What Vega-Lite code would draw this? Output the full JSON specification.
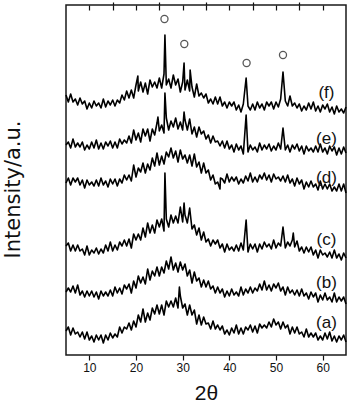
{
"$schema":"https://vega.github.io/schema/vega-lite/v6.json",
"width":280,"height":350,
"autosize":{"type":"none"},
"padding":{"left":66,"top":5,"right":4,"bottom":49},
"background":"white",
"config":{"view":{"stroke":"#1a1a1a","strokeWidth":1.5},"axis":{"grid":false}},
"datasets":{
"labels":[{"t":"(f)","x":60.8,"y":262},{"t":"(e)","x":60.8,"y":216.5},{"t":"(d)","x":60.8,"y":177.5},{"t":"(c)","x":60.8,"y":115.5},{"t":"(b)","x":60.8,"y":72.5},{"t":"(a)","x":60.8,"y":32.5}],
"marks":[{"x":26.1,"y":336},{"x":30.35,"y":311},{"x":43.7,"y":292},{"x":51.5,"y":300}],
"xrd":[
{"s":"f","x":5,"y":260},{"s":"f","x":5.5,"y":253},{"s":"f","x":6,"y":261},{"s":"f","x":6.5,"y":253},{"s":"f","x":7,"y":256},{"s":"f","x":7.5,"y":250},{"s":"f","x":8,"y":257},{"s":"f","x":8.5,"y":251},{"s":"f","x":9,"y":254},{"s":"f","x":9.5,"y":246},{"s":"f","x":10,"y":252},{"s":"f","x":10.5,"y":247},{"s":"f","x":11,"y":254},{"s":"f","x":11.5,"y":249},{"s":"f","x":12,"y":252},{"s":"f","x":12.5,"y":247},{"s":"f","x":13,"y":256},{"s":"f","x":13.5,"y":248},{"s":"f","x":14,"y":254},{"s":"f","x":14.5,"y":250},{"s":"f","x":15,"y":255},{"s":"f","x":15.5,"y":249},{"s":"f","x":16,"y":255},{"s":"f","x":16.5,"y":252},{"s":"f","x":17,"y":260},{"s":"f","x":17.5,"y":255},{"s":"f","x":18,"y":264},{"s":"f","x":18.5,"y":257},{"s":"f","x":19,"y":265},{"s":"f","x":19.5,"y":257},{"s":"f","x":20,"y":270},{"s":"f","x":20.4,"y":279},{"s":"f","x":20.5,"y":264},{"s":"f","x":21,"y":273},{"s":"f","x":21.5,"y":263},{"s":"f","x":22,"y":272},{"s":"f","x":22.5,"y":261},{"s":"f","x":23,"y":275},{"s":"f","x":23.5,"y":268},{"s":"f","x":24,"y":273},{"s":"f","x":24.5,"y":267},{"s":"f","x":25,"y":277},{"s":"f","x":25.5,"y":267},{"s":"f","x":26,"y":281},{"s":"f","x":26.2,"y":320},{"s":"f","x":26.5,"y":270},{"s":"f","x":27,"y":276},{"s":"f","x":27.5,"y":267},{"s":"f","x":28,"y":280},{"s":"f","x":28.5,"y":270},{"s":"f","x":29,"y":276},{"s":"f","x":29.5,"y":263},{"s":"f","x":30,"y":273},{"s":"f","x":30.3,"y":292},{"s":"f","x":30.5,"y":265},{"s":"f","x":31,"y":275},{"s":"f","x":31.5,"y":264},{"s":"f","x":31.6,"y":285},{"s":"f","x":32,"y":268},{"s":"f","x":32.5,"y":258},{"s":"f","x":33,"y":271},{"s":"f","x":33.5,"y":259},{"s":"f","x":34,"y":262},{"s":"f","x":34.5,"y":257},{"s":"f","x":35,"y":261},{"s":"f","x":35.5,"y":252},{"s":"f","x":36,"y":256},{"s":"f","x":36.5,"y":251},{"s":"f","x":37,"y":258},{"s":"f","x":37.5,"y":251},{"s":"f","x":38,"y":258},{"s":"f","x":38.5,"y":249},{"s":"f","x":39,"y":253},{"s":"f","x":39.5,"y":247},{"s":"f","x":40,"y":253},{"s":"f","x":40.5,"y":249},{"s":"f","x":41,"y":253},{"s":"f","x":41.5,"y":245},{"s":"f","x":42,"y":250},{"s":"f","x":42.5,"y":243},{"s":"f","x":43,"y":251},{"s":"f","x":43.6,"y":277},{"s":"f","x":44,"y":249},{"s":"f","x":44.5,"y":245},{"s":"f","x":45,"y":251},{"s":"f","x":45.5,"y":245},{"s":"f","x":46,"y":253},{"s":"f","x":46.5,"y":247},{"s":"f","x":47,"y":251},{"s":"f","x":47.5,"y":245},{"s":"f","x":48,"y":253},{"s":"f","x":48.5,"y":249},{"s":"f","x":49,"y":253},{"s":"f","x":49.5,"y":246},{"s":"f","x":50,"y":253},{"s":"f","x":50.5,"y":248},{"s":"f","x":51,"y":256},{"s":"f","x":51.5,"y":283},{"s":"f","x":52,"y":254},{"s":"f","x":52.5,"y":249},{"s":"f","x":53,"y":259},{"s":"f","x":53.5,"y":249},{"s":"f","x":54,"y":252},{"s":"f","x":54.5,"y":247},{"s":"f","x":55,"y":251},{"s":"f","x":55.5,"y":244},{"s":"f","x":56,"y":249},{"s":"f","x":56.5,"y":245},{"s":"f","x":57,"y":252},{"s":"f","x":57.5,"y":246},{"s":"f","x":58,"y":253},{"s":"f","x":58.5,"y":244},{"s":"f","x":59,"y":249},{"s":"f","x":59.5,"y":243},{"s":"f","x":60,"y":250},{"s":"f","x":60.5,"y":246},{"s":"f","x":61,"y":251},{"s":"f","x":61.5,"y":243},{"s":"f","x":62,"y":248},{"s":"f","x":62.5,"y":241},{"s":"f","x":63,"y":249},{"s":"f","x":63.5,"y":243},{"s":"f","x":64,"y":246},{"s":"f","x":64.5,"y":242},{"s":"f","x":65,"y":248},
{"s":"e","x":5,"y":210},{"s":"e","x":5.5,"y":213},{"s":"e","x":6,"y":207},{"s":"e","x":6.5,"y":216},{"s":"e","x":7,"y":208},{"s":"e","x":7.5,"y":212},{"s":"e","x":8,"y":208},{"s":"e","x":8.5,"y":213},{"s":"e","x":9,"y":205},{"s":"e","x":9.5,"y":210},{"s":"e","x":10,"y":206},{"s":"e","x":10.5,"y":213},{"s":"e","x":11,"y":207},{"s":"e","x":11.5,"y":215},{"s":"e","x":12,"y":206},{"s":"e","x":12.5,"y":212},{"s":"e","x":13,"y":206},{"s":"e","x":13.5,"y":213},{"s":"e","x":14,"y":209},{"s":"e","x":14.5,"y":214},{"s":"e","x":15,"y":207},{"s":"e","x":15.5,"y":213},{"s":"e","x":16,"y":207},{"s":"e","x":16.5,"y":216},{"s":"e","x":17,"y":211},{"s":"e","x":17.5,"y":215},{"s":"e","x":18,"y":212},{"s":"e","x":18.5,"y":219},{"s":"e","x":19,"y":212},{"s":"e","x":19.5,"y":225},{"s":"e","x":20,"y":215},{"s":"e","x":20.5,"y":222},{"s":"e","x":21,"y":213},{"s":"e","x":21.5,"y":226},{"s":"e","x":22,"y":219},{"s":"e","x":22.5,"y":226},{"s":"e","x":23,"y":214},{"s":"e","x":23.5,"y":226},{"s":"e","x":24,"y":220},{"s":"e","x":24.5,"y":232},{"s":"e","x":24.7,"y":238},{"s":"e","x":25,"y":224},{"s":"e","x":25.5,"y":230},{"s":"e","x":26,"y":222},{"s":"e","x":26.2,"y":262},{"s":"e","x":26.5,"y":237},{"s":"e","x":27,"y":225},{"s":"e","x":27.5,"y":234},{"s":"e","x":28,"y":228},{"s":"e","x":28.5,"y":237},{"s":"e","x":29,"y":226},{"s":"e","x":29.5,"y":233},{"s":"e","x":30,"y":225},{"s":"e","x":30.3,"y":243},{"s":"e","x":30.5,"y":235},{"s":"e","x":31,"y":225},{"s":"e","x":31.5,"y":236},{"s":"e","x":32,"y":221},{"s":"e","x":32.5,"y":228},{"s":"e","x":33,"y":218},{"s":"e","x":33.5,"y":228},{"s":"e","x":34,"y":221},{"s":"e","x":34.5,"y":224},{"s":"e","x":35,"y":216},{"s":"e","x":35.5,"y":220},{"s":"e","x":36,"y":212},{"s":"e","x":36.5,"y":219},{"s":"e","x":37,"y":213},{"s":"e","x":37.5,"y":214},{"s":"e","x":38,"y":209},{"s":"e","x":38.5,"y":214},{"s":"e","x":39,"y":207},{"s":"e","x":39.5,"y":214},{"s":"e","x":40,"y":206},{"s":"e","x":40.5,"y":210},{"s":"e","x":41,"y":203},{"s":"e","x":41.5,"y":211},{"s":"e","x":42,"y":205},{"s":"e","x":42.5,"y":209},{"s":"e","x":43,"y":201},{"s":"e","x":43.6,"y":240},{"s":"e","x":44,"y":203},{"s":"e","x":44.5,"y":210},{"s":"e","x":45,"y":205},{"s":"e","x":45.5,"y":208},{"s":"e","x":46,"y":203},{"s":"e","x":46.5,"y":212},{"s":"e","x":47,"y":205},{"s":"e","x":47.5,"y":210},{"s":"e","x":48,"y":206},{"s":"e","x":48.5,"y":211},{"s":"e","x":49,"y":204},{"s":"e","x":49.5,"y":209},{"s":"e","x":50,"y":205},{"s":"e","x":50.5,"y":212},{"s":"e","x":51,"y":206},{"s":"e","x":51.5,"y":227},{"s":"e","x":52,"y":205},{"s":"e","x":52.5,"y":210},{"s":"e","x":53,"y":203},{"s":"e","x":53.5,"y":210},{"s":"e","x":54,"y":206},{"s":"e","x":54.5,"y":211},{"s":"e","x":55,"y":204},{"s":"e","x":55.5,"y":209},{"s":"e","x":56,"y":201},{"s":"e","x":56.5,"y":209},{"s":"e","x":57,"y":204},{"s":"e","x":57.5,"y":207},{"s":"e","x":58,"y":203},{"s":"e","x":58.5,"y":209},{"s":"e","x":59,"y":203},{"s":"e","x":59.5,"y":211},{"s":"e","x":60,"y":203},{"s":"e","x":60.5,"y":207},{"s":"e","x":61,"y":201},{"s":"e","x":61.5,"y":209},{"s":"e","x":62,"y":204},{"s":"e","x":62.5,"y":208},{"s":"e","x":63,"y":200},{"s":"e","x":63.5,"y":207},{"s":"e","x":64,"y":201},{"s":"e","x":64.5,"y":208},{"s":"e","x":65,"y":202},
{"s":"d","x":5,"y":172},{"s":"d","x":5.5,"y":177},{"s":"d","x":6,"y":170},{"s":"d","x":6.5,"y":177},{"s":"d","x":7,"y":173},{"s":"d","x":7.5,"y":177},{"s":"d","x":8,"y":170},{"s":"d","x":8.5,"y":175},{"s":"d","x":9,"y":167},{"s":"d","x":9.5,"y":175},{"s":"d","x":10,"y":170},{"s":"d","x":10.5,"y":173},{"s":"d","x":11,"y":169},{"s":"d","x":11.5,"y":175},{"s":"d","x":12,"y":169},{"s":"d","x":12.5,"y":177},{"s":"d","x":13,"y":170},{"s":"d","x":13.5,"y":174},{"s":"d","x":14,"y":168},{"s":"d","x":14.5,"y":176},{"s":"d","x":15,"y":171},{"s":"d","x":15.5,"y":176},{"s":"d","x":16,"y":169},{"s":"d","x":16.5,"y":176},{"s":"d","x":17,"y":172},{"s":"d","x":17.5,"y":180},{"s":"d","x":18,"y":175},{"s":"d","x":18.5,"y":180},{"s":"d","x":19,"y":174},{"s":"d","x":19.5,"y":190},{"s":"d","x":20,"y":178},{"s":"d","x":20.5,"y":187},{"s":"d","x":21,"y":183},{"s":"d","x":21.5,"y":192},{"s":"d","x":22,"y":182},{"s":"d","x":22.5,"y":191},{"s":"d","x":23,"y":185},{"s":"d","x":23.5,"y":197},{"s":"d","x":24,"y":189},{"s":"d","x":24.5,"y":202},{"s":"d","x":25,"y":190},{"s":"d","x":25.5,"y":199},{"s":"d","x":26,"y":191},{"s":"d","x":26.5,"y":203},{"s":"d","x":27,"y":198},{"s":"d","x":27.5,"y":207},{"s":"d","x":28,"y":197},{"s":"d","x":28.5,"y":204},{"s":"d","x":29,"y":193},{"s":"d","x":29.5,"y":205},{"s":"d","x":30,"y":196},{"s":"d","x":30.5,"y":200},{"s":"d","x":31,"y":192},{"s":"d","x":31.5,"y":200},{"s":"d","x":32,"y":189},{"s":"d","x":32.5,"y":201},{"s":"d","x":33,"y":188},{"s":"d","x":33.5,"y":193},{"s":"d","x":34,"y":182},{"s":"d","x":34.5,"y":192},{"s":"d","x":35,"y":182},{"s":"d","x":35.5,"y":185},{"s":"d","x":36,"y":175},{"s":"d","x":36.5,"y":180},{"s":"d","x":37,"y":171},{"s":"d","x":37.5,"y":173},{"s":"d","x":38,"y":166},{"s":"d","x":38.1,"y":177},{"s":"d","x":38.5,"y":176},{"s":"d","x":39,"y":172},{"s":"d","x":39.5,"y":181},{"s":"d","x":40,"y":173},{"s":"d","x":40.5,"y":178},{"s":"d","x":41,"y":174},{"s":"d","x":41.5,"y":178},{"s":"d","x":42,"y":171},{"s":"d","x":42.5,"y":176},{"s":"d","x":43,"y":172},{"s":"d","x":43.5,"y":179},{"s":"d","x":44,"y":174},{"s":"d","x":44.5,"y":182},{"s":"d","x":45,"y":173},{"s":"d","x":45.5,"y":178},{"s":"d","x":46,"y":173},{"s":"d","x":46.5,"y":180},{"s":"d","x":47,"y":176},{"s":"d","x":47.5,"y":182},{"s":"d","x":48,"y":175},{"s":"d","x":48.5,"y":180},{"s":"d","x":49,"y":173},{"s":"d","x":49.5,"y":181},{"s":"d","x":50,"y":176},{"s":"d","x":50.5,"y":178},{"s":"d","x":51,"y":174},{"s":"d","x":51.5,"y":179},{"s":"d","x":52,"y":173},{"s":"d","x":52.5,"y":180},{"s":"d","x":53,"y":172},{"s":"d","x":53.5,"y":176},{"s":"d","x":54,"y":169},{"s":"d","x":54.5,"y":177},{"s":"d","x":55,"y":171},{"s":"d","x":55.5,"y":175},{"s":"d","x":56,"y":166},{"s":"d","x":56.5,"y":173},{"s":"d","x":57,"y":168},{"s":"d","x":57.5,"y":174},{"s":"d","x":58,"y":168},{"s":"d","x":58.5,"y":171},{"s":"d","x":59,"y":165},{"s":"d","x":59.5,"y":174},{"s":"d","x":60,"y":166},{"s":"d","x":60.5,"y":171},{"s":"d","x":61,"y":166},{"s":"d","x":61.5,"y":171},{"s":"d","x":62,"y":164},{"s":"d","x":62.5,"y":168},{"s":"d","x":63,"y":164},{"s":"d","x":63.5,"y":171},{"s":"d","x":64,"y":164},{"s":"d","x":64.5,"y":171},{"s":"d","x":65,"y":162},
{"s":"c","x":5,"y":109},{"s":"c","x":5.5,"y":112},{"s":"c","x":6,"y":104},{"s":"c","x":6.5,"y":110},{"s":"c","x":7,"y":104},{"s":"c","x":7.5,"y":110},{"s":"c","x":8,"y":104},{"s":"c","x":8.5,"y":106},{"s":"c","x":9,"y":100},{"s":"c","x":9.5,"y":109},{"s":"c","x":10,"y":100},{"s":"c","x":10.5,"y":105},{"s":"c","x":11,"y":102},{"s":"c","x":11.5,"y":107},{"s":"c","x":12,"y":101},{"s":"c","x":12.5,"y":106},{"s":"c","x":13,"y":102},{"s":"c","x":13.5,"y":110},{"s":"c","x":14,"y":104},{"s":"c","x":14.5,"y":113},{"s":"c","x":15,"y":104},{"s":"c","x":15.5,"y":110},{"s":"c","x":16,"y":105},{"s":"c","x":16.5,"y":113},{"s":"c","x":17,"y":109},{"s":"c","x":17.5,"y":115},{"s":"c","x":18,"y":109},{"s":"c","x":18.5,"y":116},{"s":"c","x":19,"y":107},{"s":"c","x":19.5,"y":121},{"s":"c","x":20,"y":115},{"s":"c","x":20.5,"y":121},{"s":"c","x":21,"y":115},{"s":"c","x":21.5,"y":127},{"s":"c","x":22,"y":118},{"s":"c","x":22.5,"y":132},{"s":"c","x":23,"y":122},{"s":"c","x":23.5,"y":130},{"s":"c","x":24,"y":122},{"s":"c","x":24.5,"y":135},{"s":"c","x":25,"y":128},{"s":"c","x":25.5,"y":136},{"s":"c","x":26,"y":124},{"s":"c","x":26.2,"y":182},{"s":"c","x":26.5,"y":136},{"s":"c","x":27,"y":128},{"s":"c","x":27.5,"y":140},{"s":"c","x":28,"y":132},{"s":"c","x":28.5,"y":139},{"s":"c","x":29,"y":132},{"s":"c","x":29.5,"y":148},{"s":"c","x":30,"y":133},{"s":"c","x":30.3,"y":152},{"s":"c","x":30.5,"y":140},{"s":"c","x":31,"y":132},{"s":"c","x":31.5,"y":147},{"s":"c","x":32,"y":126},{"s":"c","x":32.5,"y":130},{"s":"c","x":33,"y":120},{"s":"c","x":33.5,"y":127},{"s":"c","x":34,"y":115},{"s":"c","x":34.5,"y":123},{"s":"c","x":35,"y":113},{"s":"c","x":35.5,"y":116},{"s":"c","x":36,"y":109},{"s":"c","x":36.5,"y":115},{"s":"c","x":37,"y":111},{"s":"c","x":37.5,"y":115},{"s":"c","x":38,"y":107},{"s":"c","x":38.5,"y":111},{"s":"c","x":39,"y":103},{"s":"c","x":39.5,"y":111},{"s":"c","x":40,"y":105},{"s":"c","x":40.5,"y":108},{"s":"c","x":41,"y":104},{"s":"c","x":41.5,"y":110},{"s":"c","x":42,"y":104},{"s":"c","x":42.5,"y":112},{"s":"c","x":43,"y":105},{"s":"c","x":43.6,"y":135},{"s":"c","x":44,"y":103},{"s":"c","x":44.5,"y":111},{"s":"c","x":45,"y":106},{"s":"c","x":45.5,"y":111},{"s":"c","x":46,"y":103},{"s":"c","x":46.5,"y":111},{"s":"c","x":47,"y":106},{"s":"c","x":47.5,"y":113},{"s":"c","x":48,"y":108},{"s":"c","x":48.5,"y":111},{"s":"c","x":49,"y":106},{"s":"c","x":49.5,"y":115},{"s":"c","x":50,"y":107},{"s":"c","x":50.5,"y":112},{"s":"c","x":51,"y":109},{"s":"c","x":51.5,"y":128},{"s":"c","x":52,"y":107},{"s":"c","x":52.5,"y":113},{"s":"c","x":53,"y":109},{"s":"c","x":53.5,"y":115},{"s":"c","x":53.7,"y":122},{"s":"c","x":54,"y":108},{"s":"c","x":54.5,"y":114},{"s":"c","x":55,"y":104},{"s":"c","x":55.5,"y":108},{"s":"c","x":56,"y":102},{"s":"c","x":56.5,"y":108},{"s":"c","x":57,"y":103},{"s":"c","x":57.5,"y":108},{"s":"c","x":58,"y":100},{"s":"c","x":58.5,"y":105},{"s":"c","x":59,"y":97},{"s":"c","x":59.5,"y":105},{"s":"c","x":60,"y":100},{"s":"c","x":60.5,"y":102},{"s":"c","x":61,"y":98},{"s":"c","x":61.5,"y":103},{"s":"c","x":62,"y":97},{"s":"c","x":62.5,"y":105},{"s":"c","x":63,"y":97},{"s":"c","x":63.5,"y":101},{"s":"c","x":64,"y":95},{"s":"c","x":64.5,"y":102},{"s":"c","x":65,"y":97},
{"s":"b","x":5,"y":63},{"s":"b","x":5.5,"y":67},{"s":"b","x":6,"y":63},{"s":"b","x":6.5,"y":69},{"s":"b","x":7,"y":62},{"s":"b","x":7.5,"y":70},{"s":"b","x":8,"y":60},{"s":"b","x":8.5,"y":64},{"s":"b","x":9,"y":58},{"s":"b","x":9.5,"y":64},{"s":"b","x":10,"y":59},{"s":"b","x":10.5,"y":64},{"s":"b","x":11,"y":58},{"s":"b","x":11.5,"y":63},{"s":"b","x":12,"y":56},{"s":"b","x":12.5,"y":64},{"s":"b","x":13,"y":59},{"s":"b","x":13.5,"y":63},{"s":"b","x":14,"y":59},{"s":"b","x":14.5,"y":65},{"s":"b","x":15,"y":59},{"s":"b","x":15.5,"y":68},{"s":"b","x":16,"y":62},{"s":"b","x":16.5,"y":67},{"s":"b","x":17,"y":61},{"s":"b","x":17.5,"y":70},{"s":"b","x":18,"y":66},{"s":"b","x":18.5,"y":71},{"s":"b","x":19,"y":62},{"s":"b","x":19.5,"y":74},{"s":"b","x":20,"y":67},{"s":"b","x":20.5,"y":79},{"s":"b","x":21,"y":72},{"s":"b","x":21.5,"y":78},{"s":"b","x":22,"y":71},{"s":"b","x":22.5,"y":86},{"s":"b","x":23,"y":75},{"s":"b","x":23.5,"y":84},{"s":"b","x":24,"y":79},{"s":"b","x":24.5,"y":88},{"s":"b","x":25,"y":79},{"s":"b","x":25.5,"y":88},{"s":"b","x":26,"y":82},{"s":"b","x":26.5,"y":94},{"s":"b","x":27,"y":86},{"s":"b","x":27.5,"y":98},{"s":"b","x":28,"y":85},{"s":"b","x":28.5,"y":92},{"s":"b","x":29,"y":83},{"s":"b","x":29.5,"y":93},{"s":"b","x":30,"y":85},{"s":"b","x":30.5,"y":91},{"s":"b","x":31,"y":79},{"s":"b","x":31.5,"y":85},{"s":"b","x":32,"y":72},{"s":"b","x":32.5,"y":83},{"s":"b","x":33,"y":74},{"s":"b","x":33.5,"y":77},{"s":"b","x":34,"y":68},{"s":"b","x":34.5,"y":75},{"s":"b","x":35,"y":68},{"s":"b","x":35.5,"y":74},{"s":"b","x":36,"y":66},{"s":"b","x":36.5,"y":69},{"s":"b","x":37,"y":62},{"s":"b","x":37.5,"y":68},{"s":"b","x":38,"y":62},{"s":"b","x":38.5,"y":66},{"s":"b","x":39,"y":58},{"s":"b","x":39.5,"y":64},{"s":"b","x":40,"y":59},{"s":"b","x":40.5,"y":66},{"s":"b","x":41,"y":60},{"s":"b","x":41.5,"y":63},{"s":"b","x":42,"y":59},{"s":"b","x":42.5,"y":68},{"s":"b","x":43,"y":60},{"s":"b","x":43.5,"y":66},{"s":"b","x":44,"y":62},{"s":"b","x":44.5,"y":68},{"s":"b","x":45,"y":62},{"s":"b","x":45.5,"y":67},{"s":"b","x":46,"y":64},{"s":"b","x":46.5,"y":71},{"s":"b","x":47,"y":65},{"s":"b","x":47.5,"y":74},{"s":"b","x":48,"y":65},{"s":"b","x":48.5,"y":70},{"s":"b","x":49,"y":64},{"s":"b","x":49.5,"y":71},{"s":"b","x":50,"y":67},{"s":"b","x":50.5,"y":72},{"s":"b","x":51,"y":64},{"s":"b","x":51.5,"y":68},{"s":"b","x":52,"y":60},{"s":"b","x":52.5,"y":68},{"s":"b","x":53,"y":62},{"s":"b","x":53.5,"y":65},{"s":"b","x":54,"y":60},{"s":"b","x":54.5,"y":65},{"s":"b","x":55,"y":59},{"s":"b","x":55.5,"y":66},{"s":"b","x":56,"y":59},{"s":"b","x":56.5,"y":62},{"s":"b","x":57,"y":56},{"s":"b","x":57.5,"y":63},{"s":"b","x":58,"y":58},{"s":"b","x":58.5,"y":62},{"s":"b","x":59,"y":53},{"s":"b","x":59.5,"y":60},{"s":"b","x":60,"y":55},{"s":"b","x":60.5,"y":62},{"s":"b","x":61,"y":55},{"s":"b","x":61.5,"y":58},{"s":"b","x":62,"y":53},{"s":"b","x":62.5,"y":62},{"s":"b","x":63,"y":53},{"s":"b","x":63.5,"y":58},{"s":"b","x":64,"y":54},{"s":"b","x":64.5,"y":58},{"s":"b","x":65,"y":51},
{"s":"a","x":5,"y":24},{"s":"a","x":5.5,"y":28},{"s":"a","x":6,"y":20},{"s":"a","x":6.5,"y":27},{"s":"a","x":7,"y":21},{"s":"a","x":7.5,"y":23},{"s":"a","x":8,"y":18},{"s":"a","x":8.5,"y":23},{"s":"a","x":9,"y":16},{"s":"a","x":9.5,"y":23},{"s":"a","x":10,"y":15},{"s":"a","x":10.5,"y":19},{"s":"a","x":11,"y":13},{"s":"a","x":11.5,"y":20},{"s":"a","x":12,"y":15},{"s":"a","x":12.5,"y":20},{"s":"a","x":13,"y":12},{"s":"a","x":13.5,"y":20},{"s":"a","x":14,"y":15},{"s":"a","x":14.5,"y":22},{"s":"a","x":15,"y":17},{"s":"a","x":15.5,"y":21},{"s":"a","x":16,"y":18},{"s":"a","x":16.5,"y":28},{"s":"a","x":17,"y":22},{"s":"a","x":17.5,"y":28},{"s":"a","x":18,"y":26},{"s":"a","x":18.5,"y":32},{"s":"a","x":19,"y":25},{"s":"a","x":19.5,"y":34},{"s":"a","x":20,"y":28},{"s":"a","x":20.5,"y":40},{"s":"a","x":21,"y":33},{"s":"a","x":21.5,"y":46},{"s":"a","x":22,"y":33},{"s":"a","x":22.5,"y":42},{"s":"a","x":23,"y":35},{"s":"a","x":23.5,"y":47},{"s":"a","x":24,"y":41},{"s":"a","x":24.5,"y":50},{"s":"a","x":25,"y":41},{"s":"a","x":25.5,"y":50},{"s":"a","x":26,"y":40},{"s":"a","x":26.5,"y":54},{"s":"a","x":27,"y":48},{"s":"a","x":27.5,"y":54},{"s":"a","x":28,"y":48},{"s":"a","x":28.5,"y":57},{"s":"a","x":29,"y":47},{"s":"a","x":29.3,"y":68},{"s":"a","x":29.5,"y":59},{"s":"a","x":30,"y":47},{"s":"a","x":30.5,"y":51},{"s":"a","x":31,"y":40},{"s":"a","x":31.5,"y":50},{"s":"a","x":32,"y":40},{"s":"a","x":32.5,"y":45},{"s":"a","x":33,"y":31},{"s":"a","x":33.5,"y":40},{"s":"a","x":34,"y":30},{"s":"a","x":34.5,"y":38},{"s":"a","x":35,"y":31},{"s":"a","x":35.5,"y":32},{"s":"a","x":36,"y":26},{"s":"a","x":36.5,"y":34},{"s":"a","x":37,"y":26},{"s":"a","x":37.5,"y":30},{"s":"a","x":38,"y":25},{"s":"a","x":38.5,"y":29},{"s":"a","x":39,"y":21},{"s":"a","x":39.5,"y":25},{"s":"a","x":40,"y":20},{"s":"a","x":40.5,"y":27},{"s":"a","x":41,"y":22},{"s":"a","x":41.5,"y":30},{"s":"a","x":42,"y":21},{"s":"a","x":42.5,"y":27},{"s":"a","x":43,"y":21},{"s":"a","x":43.5,"y":28},{"s":"a","x":44,"y":25},{"s":"a","x":44.5,"y":30},{"s":"a","x":45,"y":23},{"s":"a","x":45.5,"y":29},{"s":"a","x":46,"y":22},{"s":"a","x":46.5,"y":31},{"s":"a","x":47,"y":27},{"s":"a","x":47.5,"y":30},{"s":"a","x":48,"y":27},{"s":"a","x":48.5,"y":33},{"s":"a","x":49,"y":28},{"s":"a","x":49.5,"y":36},{"s":"a","x":50,"y":30},{"s":"a","x":50.5,"y":33},{"s":"a","x":51,"y":26},{"s":"a","x":51.5,"y":33},{"s":"a","x":52,"y":27},{"s":"a","x":52.5,"y":30},{"s":"a","x":53,"y":21},{"s":"a","x":53.5,"y":28},{"s":"a","x":54,"y":22},{"s":"a","x":54.5,"y":28},{"s":"a","x":55,"y":21},{"s":"a","x":55.5,"y":23},{"s":"a","x":56,"y":18},{"s":"a","x":56.5,"y":26},{"s":"a","x":57,"y":18},{"s":"a","x":57.5,"y":22},{"s":"a","x":58,"y":18},{"s":"a","x":58.5,"y":22},{"s":"a","x":59,"y":15},{"s":"a","x":59.5,"y":19},{"s":"a","x":60,"y":15},{"s":"a","x":60.5,"y":22},{"s":"a","x":61,"y":16},{"s":"a","x":61.5,"y":23},{"s":"a","x":62,"y":14},{"s":"a","x":62.5,"y":19},{"s":"a","x":63,"y":13},{"s":"a","x":63.5,"y":19},{"s":"a","x":64,"y":15},{"s":"a","x":64.5,"y":20},{"s":"a","x":65,"y":13}
]},
"resolve":{"axis":{"x":"independent","y":"independent"}},
"layer":[
{"data":{"name":"xrd"},
 "mark":{"type":"line","color":"#000","strokeWidth":1.6,"strokeJoin":"round"},
 "encoding":{
  "x":{"field":"x","type":"quantitative","scale":{"domain":[5,65],"nice":false,"zero":false},
   "axis":{"values":[10,20,30,40,50,60],"format":"d","domain":false,"grid":false,"tickSize":5,"tickColor":"#111","tickWidth":1.2,"labelFont":"Liberation Sans","labelFontSize":12,"labelColor":"#111","labelPadding":2,"title":"2θ","titleFont":"Liberation Sans","titleFontSize":21,"titleFontWeight":"normal","titleColor":"#111","titleY":44,"titleBaseline":"alphabetic"}},
  "y":{"field":"y","type":"quantitative","scale":{"domain":[0,350],"nice":false,"zero":false},
   "axis":{"title":"Intensity/a.u.","labels":false,"ticks":false,"domain":false,"grid":false,"titleFont":"DejaVu Sans","titleFontSize":21,"titleFontWeight":"normal","titleColor":"#111","titleX":-47,"titleY":184,"titleAngle":-90,"titleAlign":"center","titleBaseline":"alphabetic"}},
  "detail":{"field":"s","type":"nominal"}
 }},
{"data":{"name":"labels"},
 "mark":{"type":"text","font":"Liberation Sans","fontSize":17,"color":"#111","baseline":"middle","align":"center"},
 "encoding":{
  "x":{"field":"x","type":"quantitative","scale":{"domain":[5,65],"nice":false,"zero":false},
   "axis":{"values":[15,25,35,45,55],"labels":false,"domain":false,"grid":false,"tickSize":3,"tickColor":"#111","tickWidth":1.2,"title":null}},
  "y":{"field":"y","type":"quantitative","scale":{"domain":[0,350],"nice":false,"zero":false},"axis":null},
  "text":{"field":"t"}
 }},
{"data":{"name":"marks"},
 "mark":{"type":"point","shape":"circle","filled":false,"size":50,"color":"#111","strokeWidth":1.3},
 "encoding":{
  "x":{"field":"x","type":"quantitative","scale":{"domain":[5,65],"nice":false,"zero":false},
   "axis":{"orient":"top","values":[10,15,20,25,30,35,40,45,50,55,60],"labels":false,"domain":false,"grid":false,"tickSize":-5,"tickColor":"#111","tickWidth":1.2,"title":null}},
  "y":{"field":"y","type":"quantitative","scale":{"domain":[0,350],"nice":false,"zero":false},"axis":null}
 }}
]
}
